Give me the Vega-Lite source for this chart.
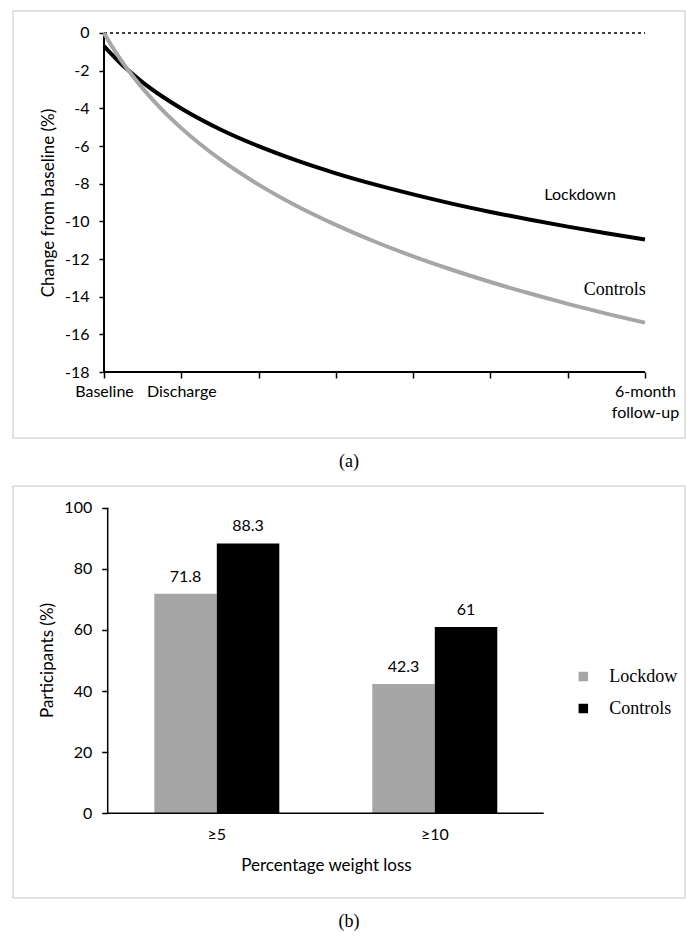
{
  "$schema": "https://vega.github.io/schema/vega-lite/v6.json",
  "padding": {"left": 12, "top": 10, "right": 1, "bottom": 2},
  "spacing": 13,
  "resolve": {"scale": {"color": "independent"}, "legend": {"color": "independent"}},
  "config": {
    "font": "Lato",
    "view": {"stroke": "#d9d9d9", "strokeWidth": 1.5},
    "axis": {"labelFont": "Lato", "labelFontSize": 16, "labelColor": "#000000", "titleFont": "Lato", "titleFontSize": 17, "titleFontWeight": "normal", "titleColor": "#000000", "tickColor": "#000000", "tickWidth": 1.5, "grid": false, "domain": false, "labelFlush": false, "labelOverlap": false},
    "title": {"font": "Liberation Serif", "fontSize": 18, "fontWeight": "normal", "color": "#000000", "orient": "bottom", "anchor": "middle", "offset": 15}
  },
  "vconcat": [
    {
      "width": 672,
      "height": 427,
      "title": {"text": "(a)"},
      "layer": [
        {"data": {"values": [{}]}, "mark": {"type": "rule", "color": "#000000", "strokeWidth": 1.5, "strokeDash": [3, 3]}, "encoding": {"x": {"datum": 0}, "x2": {"datum": 7}, "y": {"datum": 0}}},
        {"data": {"values": [{}]}, "mark": {"type": "rule", "color": "#000000", "strokeWidth": 2}, "encoding": {"x": {"datum": 0}, "y": {"datum": 0}, "y2": {"datum": -18}}},
        {"data": {"values": [{}]}, "mark": {"type": "rule", "color": "#000000", "strokeWidth": 2}, "encoding": {"x": {"datum": 0}, "x2": {"datum": 7}, "y": {"datum": -18}}},
        {
          "data": {"values": [
            {"series": "Lockdown", "t": 0, "value": -0.7},
            {"series": "Lockdown", "t": 0.1, "value": -1.14},
            {"series": "Lockdown", "t": 0.2, "value": -1.55},
            {"series": "Lockdown", "t": 0.3, "value": -1.93},
            {"series": "Lockdown", "t": 0.5, "value": -2.62},
            {"series": "Lockdown", "t": 0.75, "value": -3.36},
            {"series": "Lockdown", "t": 1, "value": -4.01},
            {"series": "Lockdown", "t": 1.5, "value": -5.11},
            {"series": "Lockdown", "t": 2, "value": -6.01},
            {"series": "Lockdown", "t": 2.5, "value": -6.78},
            {"series": "Lockdown", "t": 3, "value": -7.45},
            {"series": "Lockdown", "t": 3.5, "value": -8.04},
            {"series": "Lockdown", "t": 4, "value": -8.57},
            {"series": "Lockdown", "t": 4.5, "value": -9.06},
            {"series": "Lockdown", "t": 5, "value": -9.5},
            {"series": "Lockdown", "t": 5.5, "value": -9.9},
            {"series": "Lockdown", "t": 6, "value": -10.28},
            {"series": "Lockdown", "t": 6.5, "value": -10.63},
            {"series": "Lockdown", "t": 7, "value": -10.96},
            {"series": "Controls", "t": 0, "value": 0},
            {"series": "Controls", "t": 0.1, "value": -0.69},
            {"series": "Controls", "t": 0.2, "value": -1.32},
            {"series": "Controls", "t": 0.3, "value": -1.9},
            {"series": "Controls", "t": 0.5, "value": -2.94},
            {"series": "Controls", "t": 0.75, "value": -4.07},
            {"series": "Controls", "t": 1, "value": -5.05},
            {"series": "Controls", "t": 1.5, "value": -6.7},
            {"series": "Controls", "t": 2, "value": -8.05},
            {"series": "Controls", "t": 2.5, "value": -9.2},
            {"series": "Controls", "t": 3, "value": -10.19},
            {"series": "Controls", "t": 3.5, "value": -11.07},
            {"series": "Controls", "t": 4, "value": -11.86},
            {"series": "Controls", "t": 4.5, "value": -12.57},
            {"series": "Controls", "t": 5, "value": -13.22},
            {"series": "Controls", "t": 5.5, "value": -13.82},
            {"series": "Controls", "t": 6, "value": -14.38},
            {"series": "Controls", "t": 6.5, "value": -14.9},
            {"series": "Controls", "t": 7, "value": -15.38}
          ]},
          "mark": {"type": "line", "strokeWidth": 4, "interpolate": "monotone"},
          "encoding": {
            "x": {"field": "t", "type": "quantitative", "scale": {"domain": [-1.1775, 7.5176], "nice": false, "zero": false},
              "axis": {"offset": -66, "values": [0, 1, 2, 3, 4, 5, 6, 7], "tickSize": 6, "labelPadding": 5, "labelLineHeight": 21,
                "labelExpr": "datum.value == 0 ? 'Baseline' : datum.value == 1 ? 'Discharge' : datum.value == 7 ? ['6-month', 'follow-up'] : ''",
                "title": null}},
            "y": {"field": "value", "type": "quantitative", "scale": {"domain": [-21.504, 1.168], "nice": false, "zero": false},
              "axis": {"offset": -91, "values": [0, -2, -4, -6, -8, -10, -12, -14, -16, -18], "tickSize": 5, "labelPadding": 10,
                "labelExpr": "'' + datum.value",
                "title": "Change from baseline (%)", "titleX": -56, "titleY": 191.5, "titleBaseline": "middle"}},
            "color": {"field": "series", "type": "nominal", "scale": {"domain": ["Lockdown", "Controls"], "range": ["#000000", "#a6a6a6"]}, "legend": null}
          }
        },
        {"data": {"values": [{}]}, "mark": {"type": "text", "font": "Lato", "fontSize": 16, "color": "#000000"}, "encoding": {"x": {"datum": 6.16}, "y": {"datum": -8.6}, "text": {"value": "Lockdown"}}},
        {"data": {"values": [{}]}, "mark": {"type": "text", "font": "Liberation Serif", "fontSize": 18, "color": "#000000"}, "encoding": {"x": {"datum": 6.61}, "y": {"datum": -13.65}, "text": {"value": "Controls"}}}
      ]
    },
    {
      "width": 672,
      "height": 412,
      "title": {"text": "(b)"},
      "layer": [
        {
          "data": {"values": [
            {"loss": "≥5", "group": "Lockdown", "pct": 71.8},
            {"loss": "≥5", "group": "Controls", "pct": 88.3},
            {"loss": "≥10", "group": "Lockdown", "pct": 42.3},
            {"loss": "≥10", "group": "Controls", "pct": 61}
          ]},
          "layer": [
            {
              "mark": {"type": "bar"},
              "encoding": {
                "x": {"field": "loss", "type": "nominal", "sort": ["≥5", "≥10"], "scale": {"type": "band", "paddingInner": 0.4266, "paddingOuter": 0.7546, "align": 0.4295},
                  "axis": {"offset": -84.7, "ticks": false, "labelPadding": 13, "labelAngle": 0, "title": "Percentage weight loss", "titleX": 313, "titleY": 51.7, "titleBaseline": "middle"}},
                "xOffset": {"field": "group", "type": "nominal", "scale": {"domain": ["Lockdown", "Controls"], "paddingInner": 0, "paddingOuter": 0}},
                "y": {"field": "pct", "type": "quantitative", "scale": {"domain": [-27.72, 107.1], "nice": false, "zero": false},
                  "axis": {"offset": -94.7, "values": [0, 20, 40, 60, 80, 100], "tickSize": 6, "labelPadding": 10, "title": "Participants (%)", "titleX": -60, "titleY": 174, "titleBaseline": "middle"}},
                "y2": {"datum": 0},
                "color": {"field": "group", "type": "nominal", "scale": {"domain": ["Lockdown", "Controls"], "range": ["#a6a6a6", "#000000"]},
                  "legend": {"orient": "none", "legendX": 561.3, "legendY": 181.5, "title": null, "symbolType": "square", "symbolSize": 90, "symbolStrokeWidth": 0, "labelFont": "Liberation Serif", "labelFontSize": 18, "labelColor": "#000000", "labelOffset": 17, "rowPadding": 14, "padding": 0,
                    "labelExpr": "datum.label == 'Lockdown' ? 'Lockdow' : datum.label"}}
              }
            },
            {
              "mark": {"type": "text", "dy": -17, "font": "Lato", "fontSize": 16, "color": "#000000"},
              "encoding": {
                "x": {"field": "loss", "type": "nominal", "sort": ["≥5", "≥10"]},
                "xOffset": {"field": "group", "type": "nominal"},
                "y": {"field": "pct", "type": "quantitative"},
                "text": {"field": "pct", "type": "quantitative"}
              }
            }
          ]
        },
        {
          "data": {"values": [{}]},
          "layer": [
            {"mark": {"type": "rule", "color": "#000000", "strokeWidth": 1.5}, "encoding": {"x": {"datum": 0, "scale": {"domain": [-0.4344, 2.6482], "nice": false, "zero": false}, "axis": null}, "x2": {"datum": 2}, "y": {"datum": 0}}},
            {"mark": {"type": "rule", "color": "#000000", "strokeWidth": 1.5}, "encoding": {"x": {"datum": 0}, "y": {"datum": 0}, "y2": {"datum": 100}}}
          ]
        }
      ],
      "resolve": {"scale": {"x": "independent"}}
    }
  ]
}
